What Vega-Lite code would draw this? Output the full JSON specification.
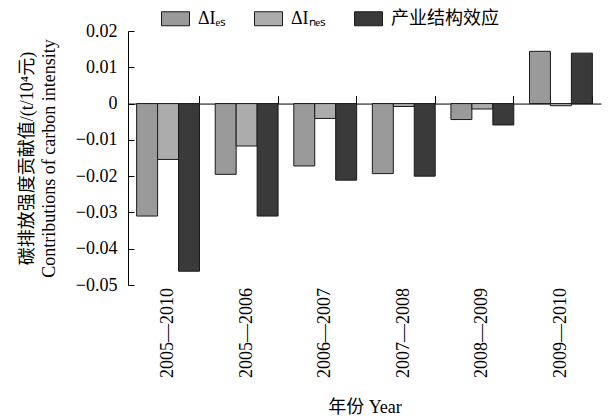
{
  "$schema": "https://vega.github.io/schema/vega-lite/v6.json",
  "width": 473,
  "height": 254,
  "autosize": {"type": "none"},
  "padding": {"left": 128, "top": 31, "right": 7, "bottom": 133},
  "background": "white",
  "config": {
    "view": {"stroke": null},
    "font": "Liberation Serif, Noto Sans CJK SC",
    "axis": {"labelColor": "black", "titleColor": "black", "domainColor": "black", "tickColor": "black", "grid": false, "titleFontWeight": "normal"},
    "legend": {"labelColor": "black"}
  },
  "data": {
    "values": [
      {"period": "2005—2010", "index": "ΔIₑₛ", "value": -0.0310},
      {"period": "2005—2010", "index": "ΔIₙₑₛ", "value": -0.0154},
      {"period": "2005—2010", "index": "产业结构效应", "value": -0.0462},
      {"period": "2005—2006", "index": "ΔIₑₛ", "value": -0.0195},
      {"period": "2005—2006", "index": "ΔIₙₑₛ", "value": -0.0117},
      {"period": "2005—2006", "index": "产业结构效应", "value": -0.0310},
      {"period": "2006—2007", "index": "ΔIₑₛ", "value": -0.0172},
      {"period": "2006—2007", "index": "ΔIₙₑₛ", "value": -0.0041},
      {"period": "2006—2007", "index": "产业结构效应", "value": -0.0211},
      {"period": "2007—2008", "index": "ΔIₑₛ", "value": -0.0193},
      {"period": "2007—2008", "index": "ΔIₙₑₛ", "value": -0.0008},
      {"period": "2007—2008", "index": "产业结构效应", "value": -0.0200},
      {"period": "2008—2009", "index": "ΔIₑₛ", "value": -0.0044},
      {"period": "2008—2009", "index": "ΔIₙₑₛ", "value": -0.0015},
      {"period": "2008—2009", "index": "产业结构效应", "value": -0.0059},
      {"period": "2009—2010", "index": "ΔIₑₛ", "value": 0.0144},
      {"period": "2009—2010", "index": "ΔIₙₑₛ", "value": -0.0006},
      {"period": "2009—2010", "index": "产业结构效应", "value": 0.0139}
    ]
  },
  "mark": {"type": "bar", "stroke": "#1a1a1a", "strokeWidth": 1},
  "encoding": {
    "x": {
      "field": "period",
      "type": "nominal",
      "sort": ["2005—2010", "2005—2006", "2006—2007", "2007—2008", "2008—2009", "2009—2010"],
      "scale": {"paddingInner": 0.2, "paddingOuter": 0.11},
      "axis": {
        "orient": "bottom",
        "offset": -181.43,
        "bandPosition": 1,
        "tickSize": -8,
        "labelAngle": -90,
        "labelAlign": "right",
        "labelBaseline": "middle",
        "labelPadding": 192,
        "labelFontSize": 18,
        "title": "年份 Year",
        "titleFontSize": 18,
        "titleBaseline": "middle",
        "titleY": 304
      }
    },
    "xOffset": {
      "field": "index",
      "type": "nominal",
      "sort": ["ΔIₑₛ", "ΔIₙₑₛ", "产业结构效应"]
    },
    "y": {
      "field": "value",
      "type": "quantitative",
      "scale": {"domain": [-0.05, 0.02], "nice": false},
      "axis": {
        "values": [-0.05, -0.04, -0.03, -0.02, -0.01, 0, 0.01, 0.02],
        "labelExpr": "datum.value == 0 ? '0' : format(datum.value, '.2f')",
        "tickSize": -6,
        "labelPadding": 17,
        "labelFontSize": 18,
        "title": ["碳排放强度贡献值/(t/10⁴元)", "Contributions of carbon intensity"],
        "titleFontSize": 18,
        "titleLineHeight": 22,
        "titlePadding": 17
      }
    },
    "fill": {
      "field": "index",
      "type": "nominal",
      "scale": {"domain": ["ΔIₑₛ", "ΔIₙₑₛ", "产业结构效应"], "range": ["#9a9a9a", "#acacac", "#3a3a3a"]},
      "legend": {
        "orient": "none",
        "legendX": 33,
        "legendY": -27,
        "direction": "horizontal",
        "title": null,
        "symbolType": "M-1,-0.5H1V0.5H-1Z",
        "symbolSize": 784,
        "symbolStrokeColor": "#1a1a1a",
        "symbolStrokeWidth": 1,
        "symbolOpacity": 1,
        "labelFontSize": 18,
        "labelOffset": 8,
        "columnPadding": 25
      }
    }
  }
}
